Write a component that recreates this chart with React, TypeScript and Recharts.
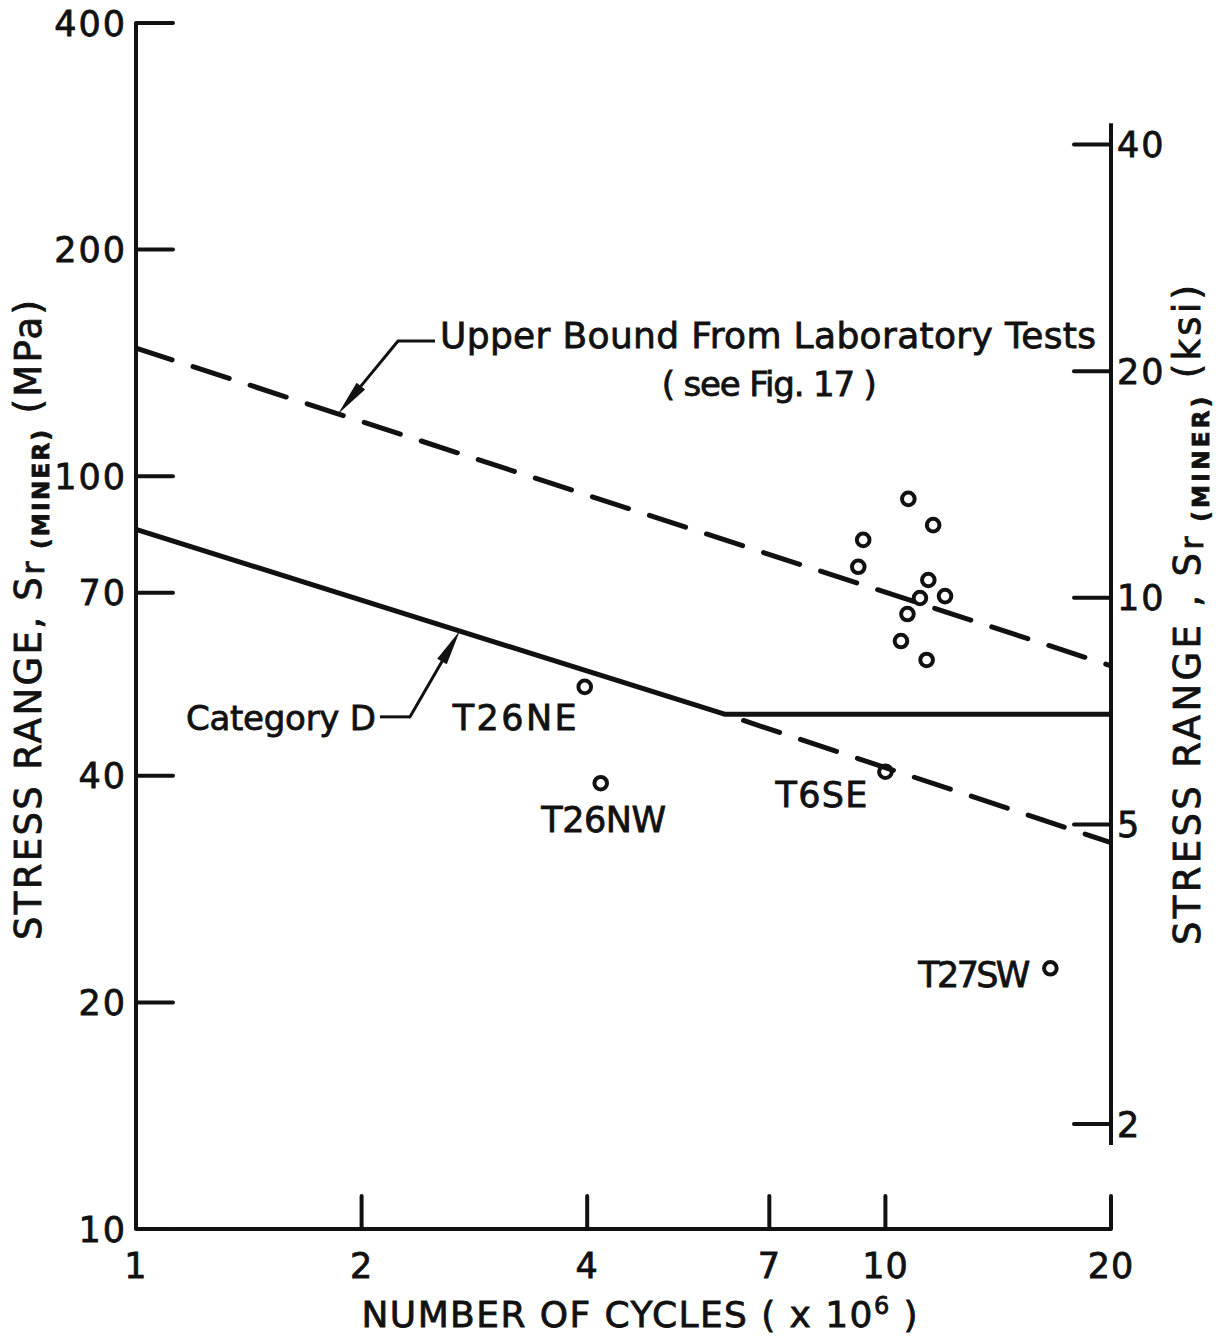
import React from 'react';
import {
  ComposedChart,
  XAxis,
  YAxis,
  Line,
  Scatter,
  ReferenceLine,
  ReferenceDot,
} from 'recharts';

const FONT = '"DejaVu Sans", "Liberation Sans", sans-serif';
const INK = '#111';

// Cycles in millions, stress range in MPa (1 ksi = 6.895 MPa)
const MPA_PER_KSI = 6.895;

const cycleTicks = [1, 2, 4, 7, 10, 20];
const cycleDomain = [1, 20];
const mpaTicks = [10, 20, 40, 70, 100, 200, 400];
const mpaDomain = [10, 400];
const ksiTicks = [2, 5, 10, 20, 40];
const ksiDomain = [mpaDomain[0] / MPA_PER_KSI, mpaDomain[1] / MPA_PER_KSI];
const ksiAxisSpan = [42.7, 1.875];

// Upper bound of the laboratory tests
const upperBoundCycles = [1, 20];
const upperBoundStress = [148, 56];

// AASHTO Category D: sloped branch then the constant amplitude fatigue limit
const categoryDCycles = [1, 6.1, 20];
const categoryDStress = [85, 48.3, 48.3];

// Sloped branch continued below the fatigue limit
const categoryDExtCycles = [6.1, 20];
const categoryDExtStress = [48.3, 32.6];

// Field test results (unlabelled cluster)
const clusterCycles = [10.73, 11.58, 9.34, 9.2, 11.41, 12.01, 11.12, 10.7, 10.49, 11.35];
const clusterStress = [93.3, 86.1, 82.3, 75.8, 72.8, 69.3, 68.9, 65.6, 60.4, 57.0];

// Field test results with a member label
const namedTests = ['T26NE', 'T26NW', 'T6SE', 'T27SW'];
const namedCycles = [3.97, 4.17, 10.0, 16.6];
const namedStress = [52.5, 39.1, 40.5, 22.2];

// Annotation leaders: arrow tip on the curve, elbow, end next to the text
const upperLeaderCycles = [1.86, 2.237, 2.506];
const upperLeaderStress = [121.0, 151.2, 151.2];
const catDLeaderCycles = [2.706, 2.321, 2.116];
const catDLeaderStress = [62.4, 47.9, 47.9];

const upperNoteAt = { n: 7, s: 128 };

const rows = (xs: number[], ys: number[]) => xs.map((n, i) => ({ n, s: ys[i] }));

const upperBoundData = rows(upperBoundCycles, upperBoundStress);
const categoryDData = rows(categoryDCycles, categoryDStress);
const categoryDExtData = rows(categoryDExtCycles, categoryDExtStress);
const testData = [
  ...rows(clusterCycles, clusterStress).map((d) => ({ ...d, id: '' })),
  ...rows(namedCycles, namedStress).map((d, i) => ({ ...d, id: namedTests[i] })),
];

const testLabelStyle: Record<string, { dx: number; dy: number; anchor: string; len: number }> = {
  T26NE: { dx: -8, dy: 43, anchor: 'end', len: 124 },
  T26NW: { dx: 3, dy: 49, anchor: 'middle', len: 125 },
  T6SE: { dx: -18, dy: 35, anchor: 'end', len: 92 },
  T27SW: { dx: -20, dy: 19, anchor: 'end', len: 112 },
};

// Slight outline gives the heavier lettering weight
const textProps = { fontFamily: FONT, fill: INK, stroke: INK, strokeWidth: 0.8 };

const LeftTick = (props: any) => {
  const { x, y, payload } = props;
  return (
    <g>
      <line x1={x} y1={y} x2={x + 37} y2={y} stroke={INK} strokeWidth={4} strokeLinecap="round" />
      <text x={x - 9} y={y} dy="0.36em" textAnchor="end" fontSize={35} letterSpacing={2} {...textProps}>
        {payload.value}
      </text>
    </g>
  );
};

const RightTick = (props: any) => {
  const { x, y, payload } = props;
  return (
    <g>
      <line x1={x} y1={y} x2={x - 37} y2={y} stroke={INK} strokeWidth={4} strokeLinecap="round" />
      <text x={x + 6} y={y} dy="0.36em" textAnchor="start" fontSize={35} letterSpacing={2} {...textProps}>
        {payload.value}
      </text>
    </g>
  );
};

const BottomTick = (props: any) => {
  const { x, y, payload } = props;
  return (
    <g>
      {payload.value !== cycleDomain[0] && (
        <line x1={x} y1={y} x2={x} y2={y - 33} stroke={INK} strokeWidth={4} strokeLinecap="round" />
      )}
      <text x={x} y={y + 49} textAnchor="middle" fontSize={35} letterSpacing={1} {...textProps}>
        {payload.value}
      </text>
    </g>
  );
};

const LeftTitle = (props: any) => {
  const vb = props.viewBox || { x: 0, y: 23, width: 136, height: 1206 };
  const bx = vb.x + 41;
  const cy = vb.y + vb.height / 2 - 6;
  return (
    <text
      x={bx}
      y={cy}
      transform={`rotate(-90 ${bx} ${cy})`}
      textAnchor="middle"
      fontSize={37}
      textLength={640}
      lengthAdjust="spacing"
      {...textProps}
    >
      {'STRESS RANGE, S'}
      <tspan fontSize={32} dy={3}>r</tspan>
      <tspan fontSize={23} fontWeight="bold" dy={5}>{' (MINER)'}</tspan>
      <tspan fontSize={37} dy={-8}>{' (MPa)'}</tspan>
    </text>
  );
};

const RightTitle = (props: any) => {
  const vb = props.viewBox || { x: 1111, y: 23, width: 110, height: 1206 };
  const bx = vb.x + 89;
  const cy = vb.y + vb.height / 2 - 11;
  return (
    <text
      x={bx}
      y={cy}
      transform={`rotate(-90 ${bx} ${cy})`}
      textAnchor="middle"
      fontSize={37}
      textLength={660}
      lengthAdjust="spacing"
      {...textProps}
    >
      {'STRESS RANGE , S'}
      <tspan fontSize={32} dy={3}>r</tspan>
      <tspan fontSize={23} fontWeight="bold" dy={6}>{' (MINER)'}</tspan>
      <tspan fontSize={37} dy={-9}>{' (ksi)'}</tspan>
    </text>
  );
};

const BottomTitle = (props: any) => {
  const vb = props.viewBox || { x: 136, y: 1229, width: 975, height: 110 };
  const cx = vb.x + vb.width / 2 + 16;
  const by = vb.y + 98;
  return (
    <text x={cx} y={by} textAnchor="middle" fontSize={36} textLength={556} lengthAdjust="spacing" {...textProps}>
      {'NUMBER OF CYCLES ( x 10'}
      <tspan fontSize={24} dy={-13}>6</tspan>
      <tspan fontSize={36} dy={13}>{' )'}</tspan>
    </text>
  );
};

const TestMarker = (props: any) => {
  const { cx, cy, payload } = props;
  if (cx == null || cy == null) return null;
  const lab = payload && payload.id ? testLabelStyle[payload.id] : null;
  return (
    <g>
      <circle cx={cx} cy={cy} r={6.3} fill="none" stroke={INK} strokeWidth={4} />
      {lab && (
        <text
          x={cx + lab.dx}
          y={cy + lab.dy}
          textAnchor={lab.anchor as any}
          fontSize={35}
          textLength={lab.len}
          lengthAdjust="spacing"
          {...textProps}
        >
          {payload.id}
        </text>
      )}
    </g>
  );
};

const LeaderArrow = (props: any) => {
  const { x1, y1, x2, y2 } = props;
  if ([x1, y1, x2, y2].some((v) => v == null)) return null;
  const ang = Math.atan2(y2 - y1, x2 - x1);
  const len = 36;
  const half = 5.5;
  const c = Math.cos(ang);
  const s = Math.sin(ang);
  const bx = x2 - len * c;
  const by = y2 - len * s;
  const px = -s * half;
  const py = c * half;
  return (
    <g>
      <line x1={x1} y1={y1} x2={bx} y2={by} stroke={INK} strokeWidth={3} strokeLinecap="round" />
      <path d={`M${x2},${y2} L${bx + px},${by + py} L${bx - px},${by - py} Z`} fill={INK} />
    </g>
  );
};

const noteShape = (text: string, anchor: string, dx: number, dy: number, size: number, len?: number) => (p: any) => (
  <text
    x={p.cx + dx}
    y={p.cy + dy}
    textAnchor={anchor as any}
    fontSize={size}
    textLength={len}
    lengthAdjust={len ? 'spacing' : undefined}
    {...textProps}
  >
    {text}
  </text>
);

export default function App() {
  return (
    <div style={{ position: 'fixed', left: 0, top: 0, background: '#fff' }}>
      <ComposedChart width={1221} height={1339} margin={{ top: 23, right: 0, bottom: 0, left: 0 }}>
        <XAxis
          dataKey="n"
          type="number"
          scale="log"
          domain={cycleDomain}
          ticks={cycleTicks}
          allowDataOverflow
          interval={0}
          height={110}
          axisLine={{ stroke: INK, strokeWidth: 4 }}
          tickLine={false}
          tickSize={0}
          tickMargin={0}
          tick={BottomTick}
          label={{ content: BottomTitle }}
        />
        <YAxis
          yAxisId="mpa"
          type="number"
          scale="log"
          domain={mpaDomain}
          ticks={mpaTicks}
          allowDataOverflow
          interval={0}
          width={136}
          axisLine={{ stroke: INK, strokeWidth: 4 }}
          tickLine={false}
          tickSize={0}
          tickMargin={0}
          tick={LeftTick}
          label={{ content: LeftTitle }}
        />
        <YAxis
          yAxisId="ksi"
          orientation="right"
          type="number"
          scale="log"
          domain={ksiDomain}
          ticks={ksiTicks}
          allowDataOverflow
          interval={0}
          width={110}
          axisLine={false}
          tickLine={false}
          tickSize={0}
          tickMargin={0}
          tick={RightTick}
          label={{ content: RightTitle }}
        />

        <ReferenceLine
          yAxisId="ksi"
          ifOverflow="visible"
          segment={[
            { x: cycleDomain[1], y: ksiAxisSpan[0] },
            { x: cycleDomain[1], y: ksiAxisSpan[1] },
          ]}
          stroke={INK}
          strokeWidth={4}
        />

        <Line
          yAxisId="mpa"
          data={upperBoundData}
          dataKey="s"
          stroke={INK}
          strokeWidth={5}
          strokeDasharray="38 22"
          strokeLinecap="round"
          dot={false}
          activeDot={false}
          isAnimationActive={false}
        />
        <Line
          yAxisId="mpa"
          data={categoryDData}
          dataKey="s"
          stroke={INK}
          strokeWidth={5}
          strokeLinejoin="round"
          dot={false}
          activeDot={false}
          isAnimationActive={false}
        />
        <Line
          yAxisId="mpa"
          data={categoryDExtData}
          dataKey="s"
          stroke={INK}
          strokeWidth={5}
          strokeDasharray="38 22"
          strokeDashoffset={-20}
          strokeLinecap="round"
          dot={false}
          activeDot={false}
          isAnimationActive={false}
        />
        <Scatter
          yAxisId="mpa"
          data={testData}
          dataKey="s"
          shape={TestMarker}
          isAnimationActive={false}
        />

        {/* Upper bound annotation */}
        <ReferenceLine
          yAxisId="mpa"
          ifOverflow="visible"
          segment={[
            { x: upperLeaderCycles[1], y: upperLeaderStress[1] },
            { x: upperLeaderCycles[0], y: upperLeaderStress[0] },
          ]}
          shape={LeaderArrow}
        />
        <ReferenceLine
          yAxisId="mpa"
          ifOverflow="visible"
          segment={[
            { x: upperLeaderCycles[1], y: upperLeaderStress[1] },
            { x: upperLeaderCycles[2], y: upperLeaderStress[2] },
          ]}
          stroke={INK}
          strokeWidth={3}
        />
        <ReferenceDot
          yAxisId="mpa"
          ifOverflow="visible"
          x={upperLeaderCycles[2]}
          y={upperLeaderStress[2]}
          r={1}
          shape={noteShape('Upper Bound From Laboratory Tests', 'start', 5, 7, 36, 656)}
        />
        <ReferenceDot
          yAxisId="mpa"
          ifOverflow="visible"
          x={upperNoteAt.n}
          y={upperNoteAt.s}
          r={1}
          shape={noteShape('( see Fig. 17 )', 'middle', 0, 0, 34, 215)}
        />

        {/* Category D annotation */}
        <ReferenceLine
          yAxisId="mpa"
          ifOverflow="visible"
          segment={[
            { x: catDLeaderCycles[1], y: catDLeaderStress[1] },
            { x: catDLeaderCycles[0], y: catDLeaderStress[0] },
          ]}
          shape={LeaderArrow}
        />
        <ReferenceLine
          yAxisId="mpa"
          ifOverflow="visible"
          segment={[
            { x: catDLeaderCycles[1], y: catDLeaderStress[1] },
            { x: catDLeaderCycles[2], y: catDLeaderStress[2] },
          ]}
          stroke={INK}
          strokeWidth={3}
        />
        <ReferenceDot
          yAxisId="mpa"
          ifOverflow="visible"
          x={catDLeaderCycles[2]}
          y={catDLeaderStress[2]}
          r={1}
          shape={noteShape('Category D', 'end', -4, 13, 34, 190)}
        />
      </ComposedChart>
    </div>
  );
}
